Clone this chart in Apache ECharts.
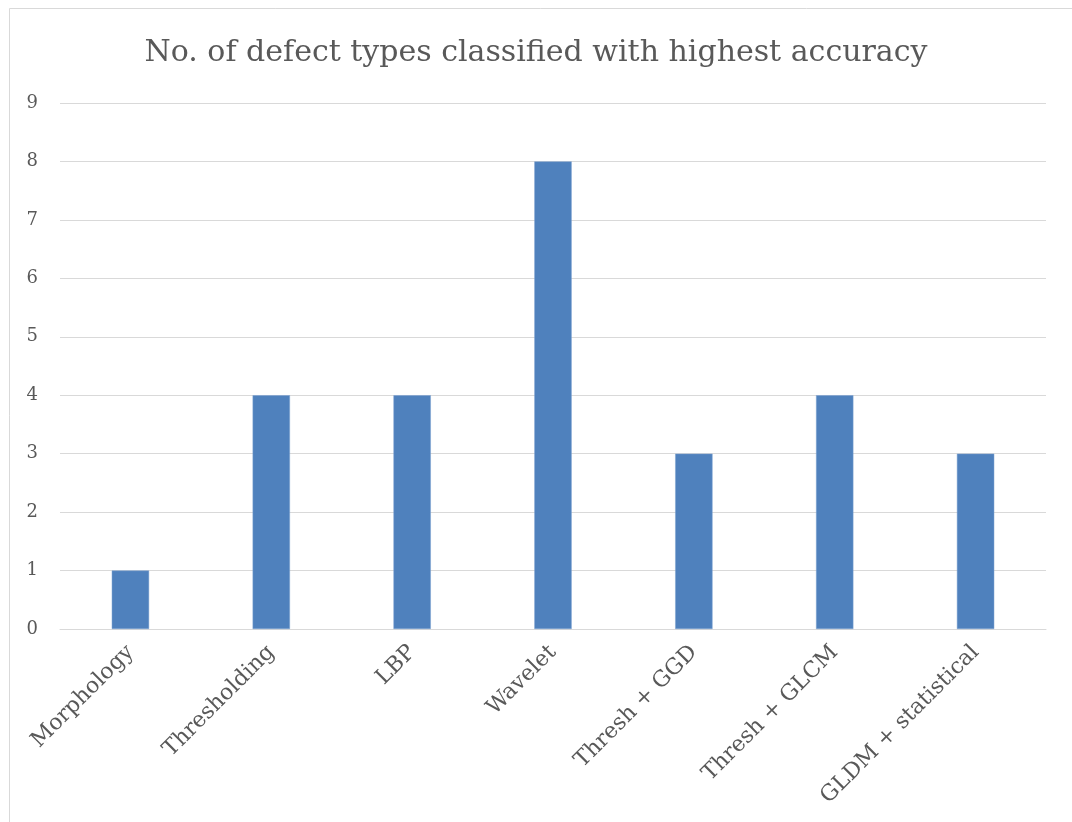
<!DOCTYPE html>
<html><head><meta charset="utf-8">
<script src="https://cdn.jsdelivr.net/npm/echarts@6/dist/echarts.min.js"></script>
<style>html,body{margin:0;padding:0;background:#fff}#c{width:1072px;height:822px}</style>
</head><body><div id="c"></div>
<script>
const categories = ["Morphology","Thresholding","LBP","Wavelet","Thresh + GGD","Thresh + GLCM","GLDM + statistical"];
const values = [1,4,4,8,3,4,3];
const titleText = "No. of defect types classified with highest accuracy";

const chart = echarts.init(document.getElementById('c'));
chart.setOption({
  animation:false,
  backgroundColor:'#fff',
  title:{text:titleText,left:'center',top:33,
    textStyle:{fontFamily:'DejaVu Serif',fontWeight:'normal',fontSize:30,color:'#595959'}},
  graphic:[
    {type:'line',shape:{x1:9.5,y1:8.5,x2:1072,y2:8.5},style:{stroke:'#d9d9d9',lineWidth:1}},
    {type:'line',shape:{x1:9.5,y1:8.5,x2:9.5,y2:822},style:{stroke:'#d9d9d9',lineWidth:1}}
  ],
  grid:{left:60,right:26,top:103,bottom:193,containLabel:false},
  xAxis:{type:'category',data:categories,
    axisLine:{lineStyle:{color:'#d9d9d9'}},axisTick:{show:false},
    axisLabel:{rotate:45,interval:0,margin:20,color:'#595959',fontFamily:'DejaVu Serif',fontSize:22}},
  yAxis:{type:'value',min:0,max:9,interval:1,
    axisLine:{show:false},axisTick:{show:false},
    splitLine:{lineStyle:{color:'#d9d9d9'}},
    axisLabel:{margin:22,color:'#595959',fontFamily:'DejaVu Serif',fontSize:18}},
  series:[{type:'bar',data:values,barWidth:'26.5%',
    itemStyle:{color:'#4f81bd',borderColor:'#7aa0d0',borderWidth:0.5}}]
});
</script></body></html>
